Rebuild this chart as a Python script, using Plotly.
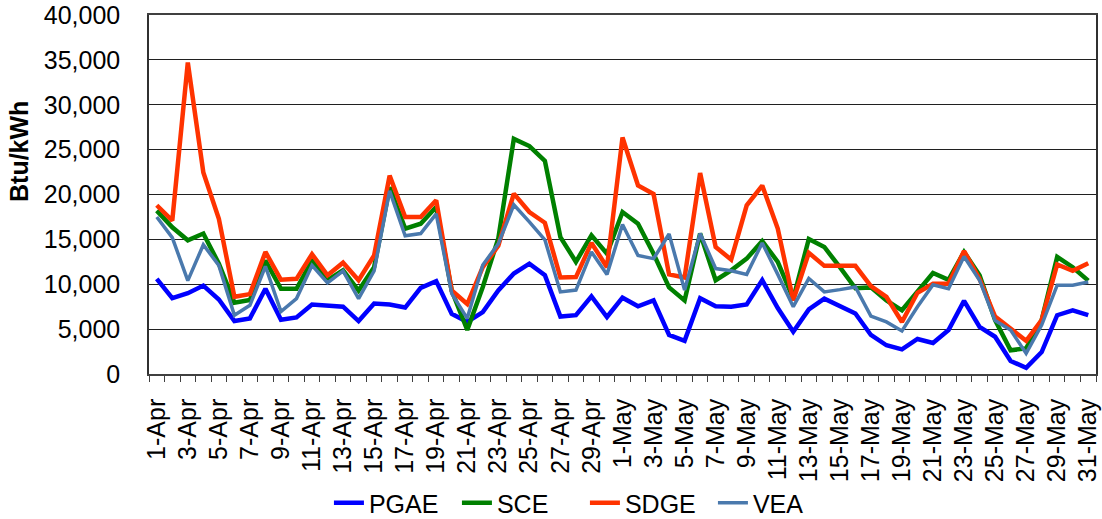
import datetime as dt
import plotly.graph_objects as go

start = dt.date(2011, 4, 1)
dates = [(start + dt.timedelta(days=i)).isoformat() for i in range(61)]

pgae = [10600, 8450, 9000, 9850, 8300, 5900, 6200, 9500, 6050, 6300,
        7750, 7650, 7500, 5900, 7850, 7750, 7400, 9600, 10350, 6700,
        5800, 6900, 9300, 11200, 12300, 11000, 6400, 6550, 8650, 6350,
        8500, 7550, 8200, 4350, 3700, 8450, 7550, 7500, 7750, 10450,
        7350, 4700, 7200, 8400, 7550, 6750, 4350, 3200, 2750, 3900,
        3450, 4900, 8150, 5250, 4150, 1450, 700, 2450, 6550, 7100, 6550]
sce = [18200, 16350, 14900, 15650, 12300, 7950, 8250, 12650, 9500, 9500,
       12650, 10450, 11550, 9300, 11900, 20800, 16200, 16750, 18600, 9300,
       4900, 9700, 15100, 26200, 25400, 23750, 15250, 12500, 15450, 13400,
       18050, 16750, 13400, 9650, 8200, 15650, 10450, 11550, 12850, 14800,
       12500, 8400, 15050, 14150, 11900, 9550, 9650, 8200, 7100, 9150,
       11250, 10500, 13600, 11000, 6000, 2650, 2850, 6000, 13050, 11900, 10400]
sdge = [18800, 17100, 34700, 22450, 17300, 8600, 8900, 13600, 10500, 10600,
        13350, 11000, 12400, 10450, 13200, 22100, 17500, 17500, 19350, 9300,
        7800, 11900, 14300, 20100, 18050, 16850, 10750, 10800, 14600, 11900,
        26350, 21000, 20050, 11100, 10750, 22400, 14150, 12750, 18800, 21000,
        16200, 8200, 13500, 12050, 12050, 12050, 9800, 8600, 5800, 9050,
        10050, 10050, 13700, 10600, 6400, 5050, 3700, 6000, 12200, 11500, 12350]
vea = [17500, 15200, 10400, 14400, 12100, 6550, 7650, 12000, 6950, 8400,
       12100, 10150, 11500, 8400, 11500, 20400, 15400, 15650, 17850, 8950,
       6200, 12150, 14500, 18850, 16950, 14950, 9150, 9350, 13600, 11100,
       16650, 13200, 12850, 15600, 9350, 15650, 11750, 11500, 11100, 14600,
       11100, 7500, 10650, 9150, 9400, 9700, 6450, 5800, 4800, 7500,
       9950, 9500, 13100, 10450, 5950, 4900, 2300, 5450, 9900, 9900, 10250]

tick_dates = dates[::2]
tick_labels = [f"{(start + dt.timedelta(days=i)).day}-{(start + dt.timedelta(days=i)).strftime('%b')}"
               for i in range(0, 61, 2)]

FONT = "Liberation Sans, Arial, sans-serif"
FS = 25

fig = go.Figure()
series = [("PGAE", pgae, "#0000FF", 4.5),
          ("SCE", sce, "#008000", 4.5),
          ("SDGE", sdge, "#FF3300", 4.5),
          ("VEA", vea, "#4A79AD", 3.5)]
for name, vals, col, w in series:
    fig.add_trace(go.Scatter(x=dates, y=vals, name=name, mode="lines",
                             line=dict(color=col, width=w)))

fig.update_layout(
    width=1102, height=519,
    margin=dict(l=149, r=6, t=15, b=145, autoexpand=False),
    paper_bgcolor="white", plot_bgcolor="white",
    font=dict(family=FONT, size=FS, color="black"),
    showlegend=True,
    legend=dict(orientation="h", x=0.190, xanchor="left",
                yref="container", y=1 - 503 / 519, yanchor="middle",
                font=dict(size=FS), itemwidth=30, tracegroupgap=0,
                entrywidth=83, entrywidthmode="pixels", bgcolor="rgba(0,0,0,0)"),
)
fig.update_xaxes(
    type="date", automargin=False,
    range=["2011-03-31 12:00", "2011-05-31 12:00"],
    tickmode="array", tickvals=tick_dates, ticktext=tick_labels,
    tickangle=-90, ticks="outside", ticklen=0,
    ticklabelstandoff=13, ticklabeloverflow="allow",
    showgrid=False, showline=True, linecolor="#404040", linewidth=1.5, mirror=True,
    minor=dict(tickmode="linear", tick0="2011-03-31 12:00", dtick=86400000,
               ticks="outside", ticklen=6, tickcolor="#404040", showgrid=False),
    tickfont=dict(size=FS),
)
fig.update_yaxes(
    automargin=False,
    range=[0, 40000], dtick=5000, tickformat=",",
    showgrid=True, gridcolor="#202020", gridwidth=1,
    showline=True, linecolor="#303030", linewidth=1.5, mirror=True,
    zeroline=False, ticks="outside", ticklen=0, ticklabelstandoff=22,
    ticklabeloverflow="allow",
    tickfont=dict(size=FS),
)
fig.add_annotation(text="<b>Btu/kWh</b>", textangle=-90, xref="paper", yref="paper",
                   x=(19 - 149) / 947, y=(374 - 152) / 359, xanchor="center", yanchor="middle",
                   showarrow=False, font=dict(size=25, family=FONT))

fig.write_html("out.html", config={"displayModeBar": False},
               post_script="document.body.style.margin='0';")
